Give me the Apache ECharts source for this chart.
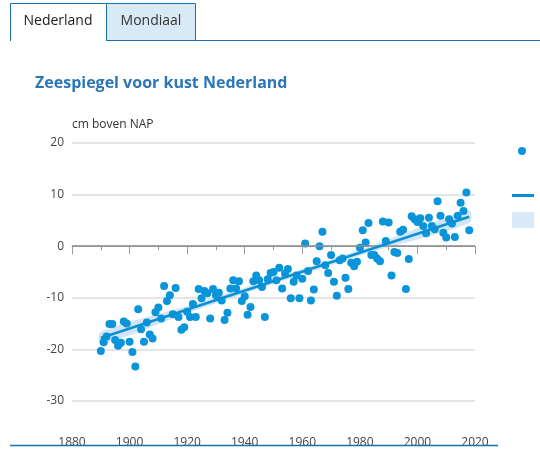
<!DOCTYPE html>
<html><head><meta charset="utf-8">
<script src="https://cdn.jsdelivr.net/npm/echarts@6/dist/echarts.min.js"></script>
<style>html,body{margin:0;padding:0;background:#fff}#c{width:540px;height:460px}</style>
</head><body><div id="c"></div>
<script>
const years = [
 1890,1891,1892,1893,1894,1895,1896,1897,1898,1899,
 1900,1901,1902,1903,1904,1905,1906,1907,1908,1909,
 1910,1911,1912,1913,1914,1915,1916,1917,1918,1919,
 1920,1921,1922,1923,1924,1925,1926,1927,1928,1929,
 1930,1931,1932,1933,1934,1935,1936,1937,1938,1939,
 1940,1941,1942,1943,1944,1945,1946,1947,1948,1949,
 1950,1951,1952,1953,1954,1955,1956,1957,1958,1959,
 1960,1961,1962,1963,1964,1965,1966,1967,1968,1969,
 1970,1971,1972,1973,1974,1975,1976,1977,1978,1979,
 1980,1981,1982,1983,1984,1985,1986,1987,1988,1989,
 1990,1991,1992,1993,1994,1995,1996,1997,1998,1999,
 2000,2001,2002,2003,2004,2005,2006,2007,2008,2009,
 2010,2011,2012,2013,2014,2015,2016,2017,2018
];
const seaLevel = [
 -20.3,-18.6,-17.5,-15.1,-15.1,-18.2,-19.3,-18.7,-14.6,-15.0,
 -18.5,-20.5,-23.3,-12.2,-16.1,-18.5,-14.8,-17.1,-17.9,-12.8,
 -11.9,-14.0,-7.7,-10.6,-9.5,-13.2,-8.1,-13.7,-16.2,-15.7,
 -12.7,-13.7,-11.2,-13.7,-8.3,-10.1,-8.7,-9.1,-14.0,-8.3,
 -9.5,-9.0,-10.5,-14.3,-12.9,-8.2,-6.6,-8.2,-6.8,-10.6,
 -9.7,-13.3,-11.8,-6.8,-5.7,-6.6,-7.9,-13.7,-6.4,-5.2,
 -5.0,-6.6,-4.2,-8.2,-5.3,-4.4,-10.1,-6.9,-5.7,-10.1,
 -6.3,0.5,-4.8,-10.5,-8.4,-2.9,0.0,2.8,-3.7,-5.2,
 -1.7,-6.9,-9.6,-2.7,-2.4,-6.1,-8.3,-3.2,-3.9,-3.0,
 -0.3,3.1,0.7,4.5,-1.7,-1.7,-2.4,-2.9,4.8,1.0,
 4.6,-5.7,-1.1,-1.3,2.8,3.2,-8.3,-2.5,5.8,5.2,
 4.7,5.4,3.9,2.5,5.5,3.9,3.3,8.7,5.9,2.6,
 1.7,5.2,4.4,1.8,5.9,8.4,6.8,10.4,3.1
];
const trendYears = [1890, 2018];
const trendValues = [-17.8, 5.7];
const bandYears = [1890, 1920, 1954, 1985, 2018];
const bandLower = [-19.0, -13.0, -6.6, -1.0, 4.5];
const bandUpper = [-16.6, -11.6, -5.5, 0.3, 6.9];
const yTicks = { min: -30, max: 20, step: 10 };
const xTicks = { min: 1880, max: 2020, step: 20 };

const BLUE = '#0a95da';
const BORDER = '#1f6fa8';
const FONT = '"Open Sans", "Noto Sans", sans-serif';

const chart = echarts.init(document.getElementById('c'), null, { renderer: 'canvas' });
chart.setOption({
  animation: false,
  backgroundColor: '#fff',
  textStyle: { fontFamily: FONT },
  title: {
    text: 'Zeespiegel voor kust Nederland',
    left: 35, top: 75, padding: 0,
    textStyle: { fontSize: 16, fontWeight: 'bold', color: '#2a76b8', fontFamily: FONT }
  },
  legend: [
    { data: ['Metingen'], left: 518, top: 147, padding: 0, itemWidth: 8, itemHeight: 8, icon: 'circle', selectedMode: false, formatter: () => '' },
    { data: ['Trend'], left: 512, top: 194, padding: 0, itemWidth: 22, itemHeight: 3, icon: 'rect', selectedMode: false, formatter: () => '' },
    { data: ['Bandbreedte'], left: 512, top: 212, padding: 0, itemWidth: 22, itemHeight: 16, icon: 'rect', selectedMode: false, formatter: () => '' }
  ],
  grid: { left: 72, right: 65, top: 143, bottom: 59, containLabel: false },
  xAxis: {
    type: 'value', min: xTicks.min, max: xTicks.max, interval: xTicks.step,
    offset: 18,
    axisLine: { show: true, lineStyle: { color: '#999', width: 1 } },
    axisTick: { show: true, length: 8, lineStyle: { color: '#999' } },
    minorTick: { show: true, splitNumber: 2, length: 4, lineStyle: { color: '#999' } },
    splitLine: { show: false },
    axisLabel: { color: '#444', fontSize: 12, margin: 18, formatter: v => String(v) }
  },
  yAxis: {
    type: 'value', min: yTicks.min, max: yTicks.max, interval: yTicks.step,
    name: 'cm boven NAP', nameLocation: 'end', nameGap: 12,
    nameTextStyle: { align: 'left', color: '#333', fontSize: 12, padding: [0, 0, 0, 0] },
    axisLine: { show: false }, axisTick: { show: false },
    splitLine: { show: true, lineStyle: { color: '#dcdcdc', width: 1.5 } },
    axisLabel: { color: '#444', fontSize: 12, margin: 8 }
  },
  series: [
    {
      type: 'custom', name: 'Bandbreedte', silent: true, z: 2,
      itemStyle: { color: '#dbeaf8' },
      data: [0],
      renderItem: function (params, api) {
        const top = bandYears.map((y, i) => api.coord([y, bandUpper[i]]));
        const bot = bandYears.map((y, i) => api.coord([y, bandLower[i]])).reverse();
        return {
          type: 'polygon',
          shape: { points: top.concat(bot), smooth: 0.3 },
          style: { fill: '#c9e1f5', opacity: 0.85 }
        };
      }
    },
    {
      type: 'scatter', name: 'Metingen', symbolSize: 8,
      data: years.map((y, i) => [y, seaLevel[i]]),
      itemStyle: { color: BLUE, opacity: 1 }, z: 3,
      markLine: {
        silent: true, symbol: 'none', label: { show: false },
        lineStyle: { color: '#8f8f8f', width: 1.5, type: 'solid' },
        data: [{ yAxis: 0 }]
      }
    },
    {
      type: 'line', name: 'Trend', symbol: 'none', silent: true,
      data: trendYears.map((y, i) => [y, trendValues[i]]),
      lineStyle: { color: '#0b8fd4', width: 2.5 },
      itemStyle: { color: '#0b8fd4' }, z: 6
    }
  ],
  graphic: [
    { type: 'polyline', shape: { points: [[10.5, 41], [10.5, 3.5], [106.5, 3.5], [106.5, 41]] },
      style: { stroke: BORDER, lineWidth: 1, fill: null }, z: 10 },
    { type: 'rect', shape: { x: 106.5, y: 3.5, width: 89, height: 37 },
      style: { fill: '#d9eaf7', stroke: BORDER, lineWidth: 1 }, z: 10 },
    { type: 'line', shape: { x1: 195, y1: 40.5, x2: 540, y2: 40.5 },
      style: { stroke: BORDER, lineWidth: 1.2 }, z: 10 },
    { type: 'text', x: 58, y: 21, z: 11,
      style: { text: 'Nederland', fill: '#1a1a1a', font: '14px ' + FONT, align: 'center', verticalAlign: 'middle' } },
    { type: 'text', x: 151, y: 21, z: 11,
      style: { text: 'Mondiaal', fill: '#333', font: '14px ' + FONT, align: 'center', verticalAlign: 'middle' } },
    { type: 'rect', shape: { x: 0, y: 446, width: 540, height: 14 },
      style: { fill: '#fff' }, z: 50 },
    { type: 'line', shape: { x1: 10, y1: 445.5, x2: 498, y2: 445.5 },
      style: { stroke: BORDER, lineWidth: 1.5 }, z: 51 }
  ]
});
</script>
</body></html>
